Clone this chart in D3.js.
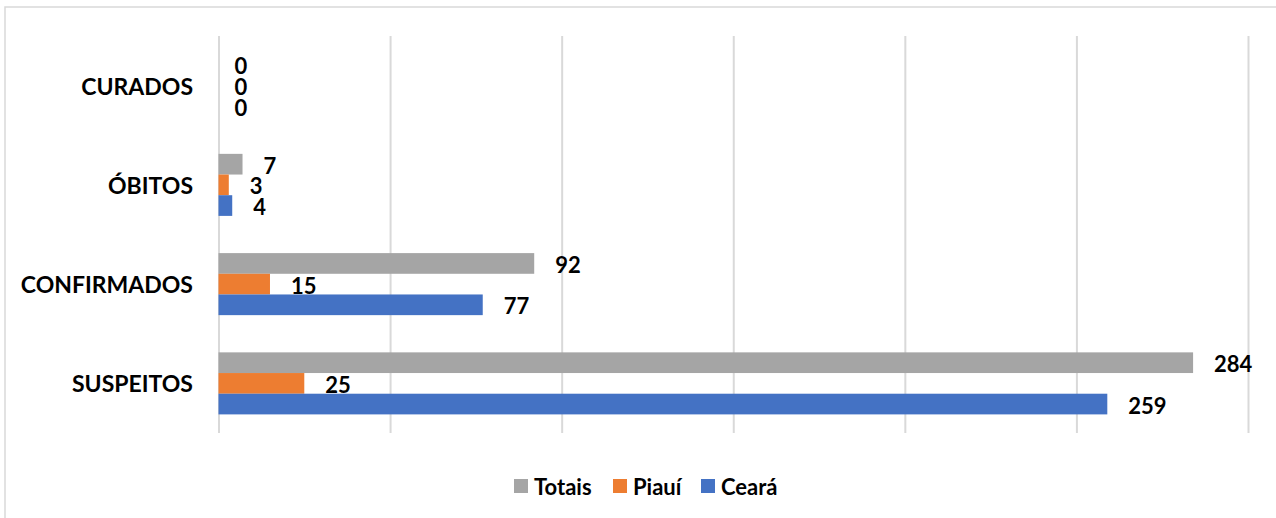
<!DOCTYPE html>
<html>
<head>
<meta charset="utf-8">
<script src="https://cdn.jsdelivr.net/npm/d3@7"></script>
<style>
  html, body { margin: 0; padding: 0; background: #fff; }
  svg { display: block; }
  text { font-family: Lato, "Open Sans", sans-serif; font-weight: bold; fill: #000; }
</style>
</head>
<body>
<svg id="chart" width="1276" height="518"></svg>
<script>
const categories = ["CURADOS", "ÓBITOS", "CONFIRMADOS", "SUSPEITOS"];
const seriesNames = ["Totais", "Piauí", "Ceará"];
const totais = [0, 7, 92, 284];
const piaui = [0, 3, 15, 25];
const ceara = [0, 4, 77, 259];
const xTicks = [0, 50, 100, 150, 200, 250, 300];
const seriesColors = ["#A5A5A5", "#ED7D31", "#4472C4"];

const seriesValues = [totais, piaui, ceara];
const svg = d3.select("#chart");

// chart frame (cut off at right/bottom)
svg.append("rect")
  .attr("x", 5).attr("y", 7).attr("width", 1400).attr("height", 700)
  .attr("fill", "none").attr("stroke", "#D9D9D9").attr("stroke-width", 1.5);

const plotTop = 36, plotBottom = 433;
const x = d3.scaleLinear().domain([0, 300]).range([218.5, 1248]);
const y = d3.scaleBand().domain(categories).range([plotTop, plotBottom]).padding(0);
const bw = y.bandwidth();
const y1 = d3.scaleBand().domain(seriesNames)
  .range([bw * 0.3 / 1.6, bw * 1.3 / 1.6]).padding(0);

// gridlines
const grid = svg.append("g").attr("transform", `translate(0,${plotBottom})`)
  .call(d3.axisBottom(x).tickValues(xTicks).tickSize(-(plotBottom - plotTop)).tickFormat(""));
grid.select(".domain").remove();
grid.selectAll(".tick line").attr("stroke", "#D9D9D9").attr("stroke-width", 2);

// category labels
svg.append("g").selectAll("text").data(categories).join("text")
  .attr("x", 193)
  .attr("y", d => y(d) + bw / 2)
  .attr("text-anchor", "end")
  .attr("dominant-baseline", "central")
  .attr("font-size", 23)
  .text(d => d);

// bars
const rows = [];
categories.forEach((c, ci) => {
  seriesNames.forEach((s, si) => {
    rows.push({ cat: c, ser: s, si, v: seriesValues[si][ci] });
  });
});

svg.append("g").selectAll("rect").data(rows.filter(d => d.v > 0)).join("rect")
  .attr("x", x(0))
  .attr("y", d => y(d.cat) + y1(d.ser))
  .attr("width", d => x(d.v) - x(0))
  .attr("height", y1.bandwidth())
  .attr("fill", d => seriesColors[d.si]);

// data labels
svg.append("g").selectAll("text").data(rows).join("text")
  .attr("x", d => x(d.v) + (d.v === 0 ? 16 : 21))
  .attr("y", d => y(d.cat) + y1(d.ser) + y1.bandwidth() / 2 + 1)
  .attr("dominant-baseline", "central")
  .attr("font-size", 22)
  .text(d => d.v);

// legend
const legendX = [514, 613, 701];
const lg = svg.append("g").selectAll("g").data(seriesNames).join("g")
  .attr("transform", (d, i) => `translate(${legendX[i]},479)`);
lg.append("rect").attr("width", 14).attr("height", 14)
  .attr("fill", (d, i) => seriesColors[i]);
lg.append("text").attr("x", 20).attr("y", 7)
  .attr("dominant-baseline", "central")
  .attr("font-size", 22)
  .text(d => d);
</script>
</body>
</html>
